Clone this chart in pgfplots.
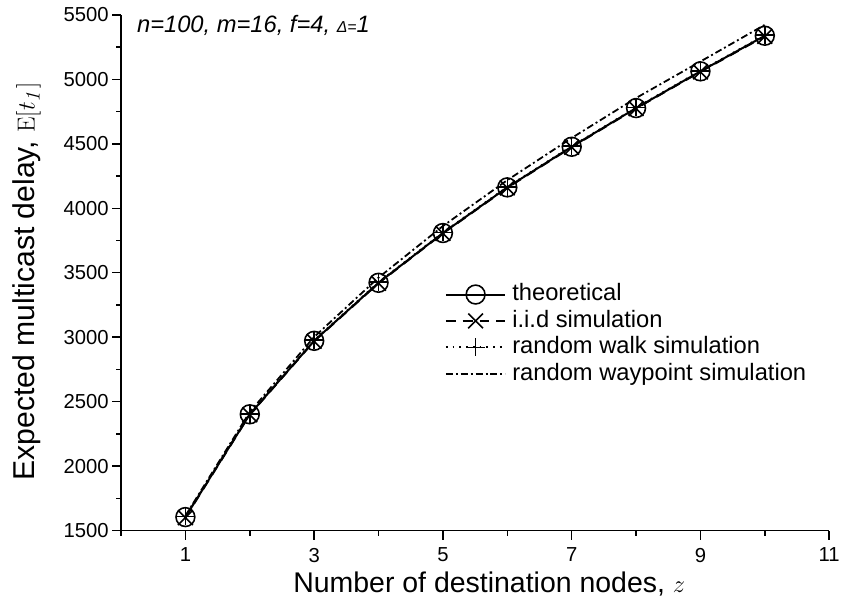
\documentclass[border=0pt]{standalone}
\usepackage{pgfplots}
\pgfplotsset{compat=1.18}
\usepackage[no-math]{fontspec}
\setmainfont{Liberation Sans}
\begin{document}
\begin{tikzpicture}
\begin{axis}[
  scale only axis,
  width=714bp, height=520bp,
  xmin=0, xmax=11, ymin=1500, ymax=5500,
  axis x line*=bottom, axis y line*=left,
  axis line style={line width=1.6bp,-},
  xtick={1,3,5,7,9,11}, minor xtick={0,2,4,6,8,10},
  ytick={1500,2000,...,5500}, minor ytick={1750,2250,...,5250},
  tick align=outside,
  major tick length=9bp, minor tick length=5bp,
  every tick/.style={line width=1.5bp,black},
  tick label style={font=\fontsize{20.5}{23}\selectfont},
  xticklabel style={yshift=-5bp},
  /pgf/number format/assume math mode=true,
  /pgf/number format/1000 sep={},
  xlabel={Number of destination nodes, $z$},
  ylabel={Expected multicast delay, $\mathrm{E}[t_{\mathit{1}}]$},
  xlabel style={font=\fontsize{28.8}{32}\selectfont, at={(rel axis cs:0.52,0)}, anchor=base, yshift=-62bp},
  ylabel style={font=\fontsize{30.5}{34}\selectfont, at={(rel axis cs:0,0.483)}, anchor=base, rotate=0, yshift=87bp},
  legend style={draw=none, fill=none, at={(rel axis cs:0.457,0.381)}, anchor=west,
    font=\fontsize{24}{27}\selectfont, inner xsep=0pt, inner ysep=0pt, column sep=4bp,
    nodes={text height=18bp, text depth=5bp, inner ysep=1.8bp}},
  legend cell align=left,
  legend image code/.code={\draw[#1] (0bp,0bp) -- (60bp,0bp); \draw[#1,solid] plot coordinates {(30bp,0bp)};},
  mark size=9.5bp,
  clip=false,
]
\addplot[black, line width=2bp, mark=o, mark options={solid, line width=1.6bp}] coordinates {
(1,1605) (2,2402) (3,2972) (4,3422) (5,3808) (6,4162) (7,4477) (8,4777) (9,5062) (10,5338)};
\addlegendentry{theoretical}
\addplot[black, line width=1.8bp, dash pattern=on 10bp off 7bp, mark=x, mark size=10.5bp, mark options={solid, line width=1.6bp}] coordinates {
(1,1600) (2,2398) (3,2968) (4,3418) (5,3804) (6,4158) (7,4473) (8,4773) (9,5058) (10,5333)};
\addlegendentry{i.i.d simulation}
\addplot[black, line width=1.8bp, dash pattern=on 1.8bp off 5bp, mark=+, mark size=9bp, mark options={solid, line width=1.6bp}] coordinates {
(1,1610) (2,2406) (3,2976) (4,3426) (5,3812) (6,4166) (7,4481) (8,4781) (9,5066) (10,5342)};
\addlegendentry{random walk simulation}
\addplot[black, line width=1.8bp, dash pattern=on 7bp off 3bp on 2bp off 3bp] coordinates {
(1,1615) (2,2420) (3,3002) (4,3462) (5,3862) (6,4218) (7,4545) (8,4855) (9,5138) (10,5423)};
\addlegendentry{random waypoint simulation}
\node[anchor=base west, font=\fontsize{24}{27}\selectfont\itshape, inner sep=0pt] at (rel axis cs:0.0224,0.965) {n=100, m=16, f=4, {\fontsize{16}{18}\selectfont Δ=}1};
\path (rel axis cs:-0.1709,-0.1423) rectangle (rel axis cs:1.0098,1.0288);
\end{axis}
\end{tikzpicture}
\end{document}
